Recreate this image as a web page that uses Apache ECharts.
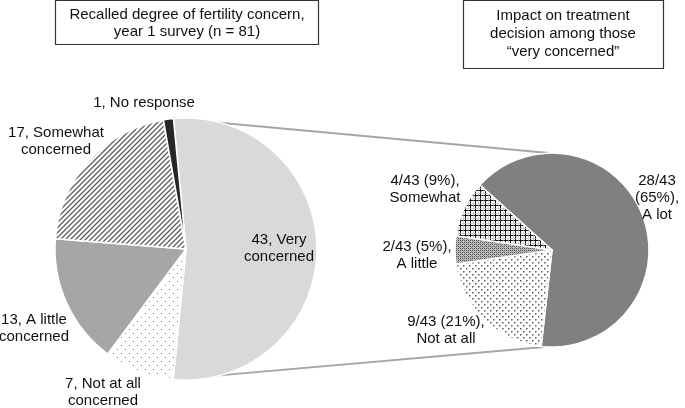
<!DOCTYPE html>
<html>
<head>
<meta charset="utf-8">
<script src="https://cdn.jsdelivr.net/npm/echarts@6/dist/echarts.min.js"></script>
<style>
html,body{margin:0;padding:0;background:#fff;}
#chart{width:685px;height:408px;}
</style>
</head>
<body>
<div id="chart"></div>
<script>
// ---- data ----
const leftTitle = 'Recalled degree of fertility concern,\nyear 1 survey (n = 81)';
const rightTitle = 'Impact on treatment\ndecision among those\n\u201cvery concerned\u201d';
const leftCategories = ['Very\nconcerned', 'Not at all\nconcerned', 'A little\nconcerned', 'Somewhat\nconcerned', 'No response'];
const leftValues = [43, 7, 13, 17, 1];
const rightCategories = ['A lot', 'Not at all', 'A little', 'Somewhat'];
const rightValues = [28, 9, 2, 4];

// ---- layout / style ----
const FONT = '"Liberation Sans", Arial, sans-serif';
const FS = 15;
const L = { cx: 186, cy: 249, r: 131, start: 95.5 };
const R = { cx: 552, cy: 250, r: 97, start: 138 };
const leftLabelOffsets = [[93, -0.5], [-83, 143.5], [-152, 79.5], [-130, -107.5], [-42, -146]];
const rightLabelOffsets = [[105, -52.5], [-106, 80], [-135, 5.5], [-127, -60.5]];

function tile(w, h, draw) {
  const c = document.createElement('canvas');
  c.width = w; c.height = h;
  const g = c.getContext('2d');
  g.fillStyle = '#fff'; g.fillRect(0, 0, w, h);
  draw(g);
  return { image: c, repeat: 'repeat' };
}
const stripes = tile(5, 5, g => {
  g.strokeStyle = '#5e5e5e'; g.lineWidth = 1.3;
  g.beginPath();
  g.moveTo(-1, 6); g.lineTo(6, -1);
  g.moveTo(-1, 1); g.lineTo(1, -1);
  g.moveTo(4, 6); g.lineTo(6, 4);
  g.stroke();
});
const sparseDots = tile(8, 8, g => {
  g.fillStyle = '#7a7a7a';
  g.fillRect(1, 1, 1, 1); g.fillRect(5, 5, 1, 1);
});
const denseDots = tile(6, 6, g => {
  g.fillStyle = '#5a5a5a';
  g.fillRect(1, 1, 1.5, 1.5); g.fillRect(4, 4, 1.5, 1.5);
});
const checker = tile(4, 4, g => {
  g.fillStyle = '#bdbdbd'; g.fillRect(0, 0, 4, 4);
  g.fillStyle = '#555';
  g.fillRect(0, 0, 1, 1); g.fillRect(2, 2, 1, 1); g.fillRect(2, 0, 1, 1); g.fillRect(0, 2, 1, 1);
  g.fillStyle = '#888';
  g.fillRect(1, 1, 1, 1); g.fillRect(3, 3, 1, 1);
});
const grid = tile(5, 5, g => {
  g.fillStyle = '#111';
  g.fillRect(0, 0, 5, 1); g.fillRect(0, 0, 1, 5);
  g.fillStyle = '#bbb';
  g.fillRect(0, 3, 5, 0.6); g.fillRect(3, 0, 0.6, 5);
});

const leftFills = ['#d9d9d9', sparseDots, '#a6a6a6', stripes, '#262626'];
const rightFills = ['#808080', denseDots, checker, grid];

function pieData(values, names, fills) {
  return values.map((v, i) => ({ value: v, name: names[i], itemStyle: { color: fills[i] } }));
}

const leftTotal = leftValues.reduce((a, b) => a + b, 0);
const rightTotal = rightValues.reduce((a, b) => a + b, 0);

function rad(a) { return a * Math.PI / 180; }
const splitA1 = L.start;
const splitA2 = L.start - leftValues[0] / leftTotal * 360;
const p1 = [L.cx + L.r * Math.cos(rad(splitA1)), L.cy - L.r * Math.sin(rad(splitA1))];
const p2 = [L.cx + L.r * Math.cos(rad(splitA2)), L.cy - L.r * Math.sin(rad(splitA2))];

const textStyleBase = { fontFamily: FONT, fontSize: FS, color: '#111', lineHeight: 17, overflow: 'none' };

const option = {
  animation: false,
  backgroundColor: '#fff',
  graphic: [
    { type: 'line', z: 0, shape: { x1: p1[0], y1: p1[1], x2: R.cx - 3, y2: R.cy - R.r }, style: { stroke: '#a6a6a6', lineWidth: 2 } },
    { type: 'line', z: 0, shape: { x1: p2[0], y1: p2[1], x2: R.cx - 8, y2: R.cy + R.r }, style: { stroke: '#a6a6a6', lineWidth: 2 } },
    { type: 'rect', z: 5, shape: { x: 55.5, y: 0.5, width: 263, height: 44 }, style: { fill: '#fff', stroke: '#333', lineWidth: 1.2 } },
    { type: 'text', z: 6, x: 187, y: 23, style: { text: leftTitle, fontFamily: FONT, fontSize: FS, lineHeight: 17, fill: '#111', align: 'center', verticalAlign: 'middle' } },
    { type: 'rect', z: 5, shape: { x: 463.5, y: 0.5, width: 200, height: 68 }, style: { fill: '#fff', stroke: '#333', lineWidth: 1.2 } },
    { type: 'text', z: 6, x: 563, y: 34, style: { text: rightTitle, fontFamily: FONT, fontSize: FS, lineHeight: 18, fill: '#111', align: 'center', verticalAlign: 'middle' } }
  ],
  series: [
    {
      type: 'pie', center: [L.cx, L.cy], radius: L.r, startAngle: L.start, clockwise: true,
      data: pieData(leftValues, leftCategories, leftFills),
      itemStyle: { borderColor: '#fff', borderWidth: 1.5 },
      label: { show: true, position: 'outside', formatter: p => p.value + ', ' + p.name, ...textStyleBase, align: 'center' },
      labelLine: { show: false },
      labelLayout: p => ({ x: L.cx + leftLabelOffsets[p.dataIndex][0], y: L.cy + leftLabelOffsets[p.dataIndex][1], align: 'center', verticalAlign: 'middle', hideOverlap: false }),
      avoidLabelOverlap: false,
      emphasis: { disabled: true }
    },
    {
      type: 'pie', center: [R.cx, R.cy], radius: R.r, startAngle: R.start, clockwise: true,
      data: pieData(rightValues, rightCategories, rightFills),
      itemStyle: { borderColor: '#fff', borderWidth: 1.5 },
      label: {
        show: true, position: 'outside', ...textStyleBase, align: 'center',
        formatter: p => {
          const pct = Math.round(p.value / rightTotal * 100);
          return p.dataIndex === 0
            ? p.value + '/' + rightTotal + '\n(' + pct + '%),\n' + p.name
            : p.value + '/' + rightTotal + ' (' + pct + '%),\n' + p.name;
        }
      },
      labelLine: { show: false },
      labelLayout: p => ({ x: R.cx + rightLabelOffsets[p.dataIndex][0], y: R.cy + rightLabelOffsets[p.dataIndex][1], align: 'center', verticalAlign: 'middle', hideOverlap: false }),
      avoidLabelOverlap: false,
      emphasis: { disabled: true }
    }
  ]
};

const chart = echarts.init(document.getElementById('chart'), null, { renderer: 'canvas' });
chart.setOption(option);
</script>
</body>
</html>
